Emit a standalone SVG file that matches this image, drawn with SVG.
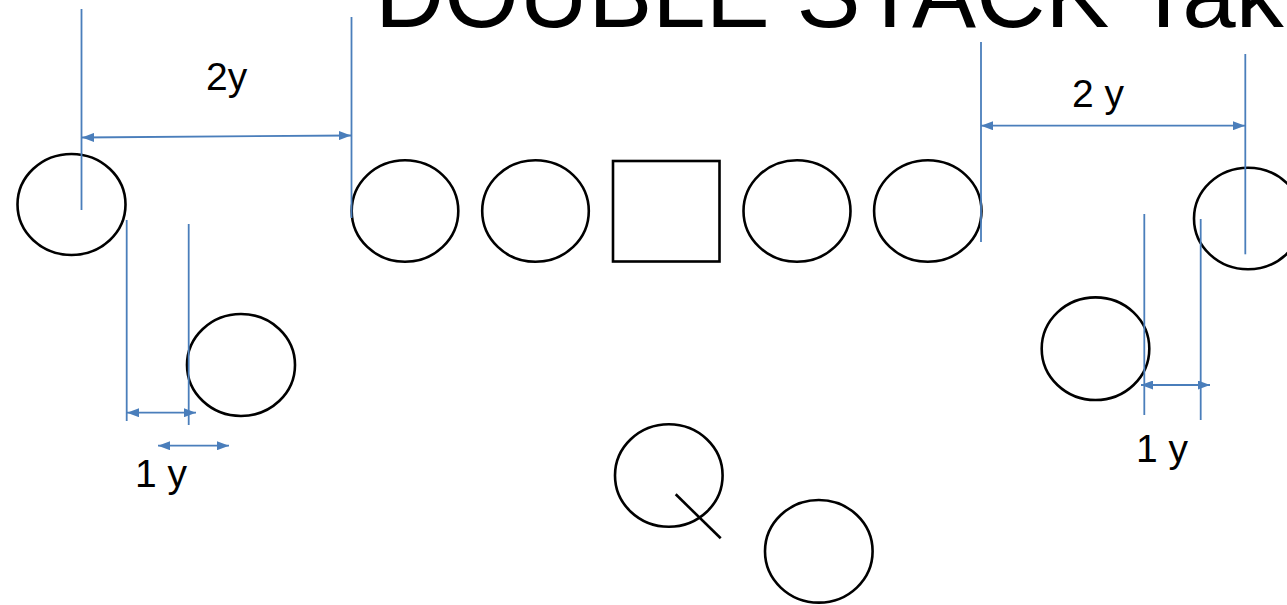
<svg xmlns="http://www.w3.org/2000/svg" width="1287" height="605" viewBox="0 0 1287 605">
<style>
.p{fill:none;stroke:#000;stroke-width:2.6}
.d{fill:none;stroke:#4a7ebb;stroke-width:1.8}
.a{marker-start:url(#ah);marker-end:url(#ah)}
.lbl{font-family:"Liberation Sans",Arial,sans-serif;font-size:39px;fill:#000}
.ttl{font-family:"Liberation Sans",Arial,sans-serif;font-size:96px;fill:#000}
</style>
<defs>
<marker id="ah" viewBox="0 0 12 9" refX="12" refY="4.5" markerWidth="12" markerHeight="9" markerUnits="userSpaceOnUse" orient="auto-start-reverse">
<path d="M0,0 L12,4.5 L0,9 z" fill="#4a7ebb"/>
</marker>
</defs>
<rect width="1287" height="605" fill="#fff"/>
<text class="ttl" x="375" y="26.7">DOUBLE STACK Tak</text>
<g id="wr-left"><ellipse class="p" cx="71.5" cy="204.5" rx="54" ry="50.5"/></g>
<g id="slot-left"><ellipse class="p" cx="241" cy="365" rx="54" ry="51"/></g>
<g id="lt"><ellipse class="p" cx="405" cy="211" rx="53.3" ry="50.8"/></g>
<g id="lg"><ellipse class="p" cx="535.5" cy="211" rx="53.3" ry="50.8"/></g>
<g id="center"><rect class="p" x="613" y="161" width="106.5" height="100.5"/></g>
<g id="rg"><ellipse class="p" cx="797" cy="211" rx="53.5" ry="50.8"/></g>
<g id="rt"><ellipse class="p" cx="927.8" cy="211" rx="53.7" ry="50.8"/></g>
<g id="wr-right"><ellipse class="p" cx="1248" cy="218.5" rx="54" ry="50.8"/></g>
<g id="slot-right"><ellipse class="p" cx="1095.5" cy="348.7" rx="53.8" ry="51.3"/></g>
<g id="qb"><ellipse class="p" cx="668.8" cy="475.5" rx="53.8" ry="51.2"/><line class="p" x1="675.7" y1="494.3" x2="720.7" y2="538.3"/></g>
<g id="rb"><ellipse class="p" cx="818.8" cy="551.3" rx="53.8" ry="51.3"/></g>
<g id="connectors">
<line class="d" x1="81.5" y1="9" x2="81.5" y2="210"/>
<line class="d" x1="351.5" y1="17" x2="351.5" y2="218"/>
<line class="d a" x1="82" y1="137.5" x2="351" y2="135.5"/>
<line class="d" x1="126.7" y1="220" x2="126.7" y2="421"/>
<line class="d" x1="188.7" y1="224" x2="188.7" y2="425"/>
<line class="d a" x1="127" y1="412.7" x2="196" y2="412.7"/>
<line class="d a" x1="158" y1="445.7" x2="229" y2="445.7"/>
<line class="d" x1="981" y1="42" x2="981" y2="242"/>
<line class="d" x1="1245.3" y1="54" x2="1245.3" y2="254.3"/>
<line class="d a" x1="981" y1="125.7" x2="1245" y2="125.7"/>
<line class="d" x1="1144.3" y1="214" x2="1144.3" y2="415"/>
<line class="d" x1="1200.7" y1="219" x2="1200.7" y2="420"/>
<line class="d a" x1="1141" y1="385" x2="1210" y2="385"/>
</g>
<g id="labels">
<text class="lbl" x="206" y="90">2y</text>
<text class="lbl" x="1072" y="107.3">2 y</text>
<text class="lbl" x="135" y="487">1 y</text>
<text class="lbl" x="1136" y="462.3">1 y</text>
</g>
</svg>
